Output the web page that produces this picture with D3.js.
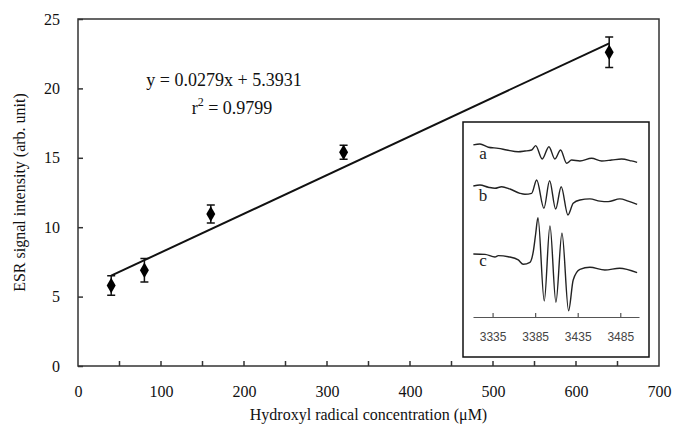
<!DOCTYPE html>
<html>
<head>
<meta charset="utf-8">
<script src="https://cdn.jsdelivr.net/npm/d3@7"></script>
<style>
  body { margin: 0; background: #fff; }
  svg { display: block; }
  .axis text { font-family: "Liberation Serif", "Times New Roman", serif; font-size: 16px; fill: #111; }
  .axis path, .axis line { stroke: #333; stroke-width: 1.5px; }
</style>
</head>
<body>
<svg id="chart" width="673" height="431"></svg>
<script>
// main calibration data
const concentration = [40, 80, 160, 320, 640];
const intensity = [5.8, 6.9, 10.95, 15.4, 22.6];
const errors = [0.7, 0.85, 0.65, 0.5, 1.1];
const xTickValues = [0, 100, 200, 300, 400, 500, 600, 700];
const yTickValues = [0, 5, 10, 15, 20, 25];
const slope = 0.0279;
const intercept = 5.3931;

// inset ESR spectra (field in G, arbitrary intensity)
const fieldA = [3312.4, 3320.2, 3330.0, 3341.7, 3351.6, 3365.2, 3373.0, 3380.9, 3385.6, 3393.3, 3401.2, 3408.2, 3414.9, 3422.0, 3427.8, 3437.6, 3451.3, 3463.1, 3474.8, 3486.5, 3498.3, 3504.8];
const specA  = [95.6, 96.1, 94.3, 93.7, 92.8, 91.8, 92.2, 92.8, 95.2, 87.8, 94.6, 87.8, 92.8, 85.4, 87.2, 86.7, 88.2, 86.7, 87.2, 87.8, 86.7, 85.9];
const fieldB = [3312.4, 3320.2, 3330.0, 3337.8, 3345.7, 3355.4, 3367.2, 3373.0, 3380.9, 3386.8, 3395.3, 3402.0, 3409.1, 3415.6, 3423.5, 3429.7, 3437.6, 3449.3, 3461.1, 3470.8, 3484.5, 3494.3, 3504.8];
const specB  = [72.8, 73.3, 72.1, 71.5, 72.4, 71.1, 68.7, 68.2, 68.7, 76.1, 60.4, 75.7, 60.0, 72.4, 56.7, 63.2, 65.0, 65.6, 64.4, 64.1, 65.6, 64.4, 62.6];
const fieldC = [3312.4, 3326.1, 3337.8, 3341.7, 3353.4, 3365.2, 3371.0, 3378.9, 3382.8, 3385.6, 3388.3, 3395.7, 3402.4, 3409.4, 3416.5, 3424.3, 3429.7, 3437.6, 3449.3, 3466.9, 3484.2, 3504.8];
const specC  = [35.0, 34.8, 33.3, 34.1, 33.5, 31.7, 29.3, 30.4, 36.3, 46.1, 55.2, 8.9, 50.6, 8.2, 46.5, 3.5, 20.6, 26.5, 27.6, 26.1, 27.1, 24.6];
const traceLabels = ['a', 'b', 'c'];
const fieldTicks = [3335, 3385, 3435, 3485];

const dimensions = {
  left: 78, top: 19, right: 659, bottom: 366
};

const svg = d3.select('#chart');

const xScale = d3.scaleLinear().domain([0, 700]).range([dimensions.left, dimensions.right]);
const yScale = d3.scaleLinear().domain([0, 25]).range([dimensions.bottom, dimensions.top]);

// frame
svg.append('rect')
   .attr('x', dimensions.left)
   .attr('y', dimensions.top)
   .attr('width', dimensions.right - dimensions.left)
   .attr('height', dimensions.bottom - dimensions.top)
   .attr('fill', 'none')
   .attr('stroke', '#333')
   .attr('stroke-width', 1.5);

// x axis: labels every 100, inner ticks every 50
const xAxis = d3.axisBottom(xScale)
                .tickValues(xTickValues)
                .tickSize(0)
                .tickPadding(20);
svg.append('g')
   .attr('class', 'axis axis-x')
   .attr('transform', 'translate(0,' + dimensions.bottom + ')')
   .call(xAxis)
   .call(g => g.select('.domain').remove());

svg.append('g')
   .selectAll('line')
   .data(d3.range(50, 700, 50))
   .enter()
   .append('line')
   .attr('x1', d => xScale(d))
   .attr('x2', d => xScale(d))
   .attr('y1', dimensions.bottom)
   .attr('y2', dimensions.bottom - 5)
   .attr('stroke', '#333')
   .attr('stroke-width', 1.5);

// y axis with inward ticks
const yAxis = d3.axisLeft(yScale)
                .tickValues(yTickValues)
                .tickSizeInner(-5)
                .tickSizeOuter(0)
                .tickPadding(18);
svg.append('g')
   .attr('class', 'axis axis-y')
   .attr('transform', 'translate(' + dimensions.left + ',0)')
   .call(yAxis)
   .call(g => g.select('.domain').remove());

// axis titles
svg.append('text')
   .attr('x', (dimensions.left + dimensions.right) / 2)
   .attr('y', 420)
   .attr('text-anchor', 'middle')
   .style('font-family', '"Liberation Serif", serif')
   .style('font-size', '16px')
   .attr('fill', '#111')
   .text('Hydroxyl radical concentration (\u03bcM)');

svg.append('text')
   .attr('transform', 'translate(25,' + (dimensions.top + dimensions.bottom) / 2 + ') rotate(-90)')
   .attr('text-anchor', 'middle')
   .style('font-family', '"Liberation Serif", serif')
   .style('font-size', '16px')
   .attr('fill', '#111')
   .text('ESR signal intensity (arb. unit)');

// regression line
svg.append('line')
   .attr('x1', xScale(concentration[0]))
   .attr('y1', yScale(slope * concentration[0] + intercept))
   .attr('x2', xScale(concentration[concentration.length - 1]))
   .attr('y2', yScale(slope * concentration[concentration.length - 1] + intercept))
   .attr('stroke', '#111')
   .attr('stroke-width', 2);

// equation
const eq = svg.append('g')
   .style('font-family', '"Liberation Serif", serif')
   .style('font-size', '18px')
   .attr('fill', '#111');
eq.append('text').attr('x', 224).attr('y', 86).attr('text-anchor', 'middle')
  .text('y = 0.0279x + 5.3931');
const r2 = eq.append('text').attr('x', 232).attr('y', 114).attr('text-anchor', 'middle');
r2.append('tspan').text('r');
r2.append('tspan').attr('dy', -8).style('font-size', '12px').text('2');
r2.append('tspan').attr('dy', 8).text(' = 0.9799');

// error bars
const points = concentration.map((c, i) => ({ x: c, y: intensity[i], e: errors[i] }));
const bars = svg.append('g').attr('stroke', '#111').attr('stroke-width', 1.5);
bars.selectAll('.err')
    .data(points)
    .enter()
    .append('path')
    .attr('fill', 'none')
    .attr('d', d => {
      const x = xScale(d.x), y1 = yScale(d.y + d.e), y2 = yScale(d.y - d.e);
      return 'M' + (x - 4) + ',' + y1 + 'H' + (x + 4) + 'M' + x + ',' + y1 + 'V' + y2 + 'M' + (x - 4) + ',' + y2 + 'H' + (x + 4);
    });

// diamond markers
svg.append('g')
   .selectAll('.marker')
   .data(points)
   .enter()
   .append('path')
   .attr('transform', d => 'translate(' + xScale(d.x) + ',' + yScale(d.y) + ')')
   .attr('d', d3.symbol().type(d3.symbolDiamond).size(70))
   .attr('fill', '#000');

// ---- inset ----
const inset = svg.append('g');
inset.append('rect')
     .attr('x', 463).attr('y', 122)
     .attr('width', 186).attr('height', 235)
     .attr('fill', '#fff')
     .attr('stroke', '#111')
     .attr('stroke-width', 1.5);

const fScale = d3.scaleLinear().domain([3312, 3507]).range([473, 639]);
const sScale = d3.scaleLinear().domain([0, 100]).range([317, 137]);

const fieldAxis = d3.axisBottom(fScale)
                    .tickValues(fieldTicks)
                    .tickFormat(d3.format('d'))
                    .tickSizeInner(-4)
                    .tickSizeOuter(0)
                    .tickPadding(15);
inset.append('g')
     .attr('transform', 'translate(0,317)')
     .call(fieldAxis)
     .call(g => g.select('.domain').attr('stroke', '#555').attr('stroke-width', 1.2))
     .call(g => g.selectAll('line').attr('stroke', '#555').attr('stroke-width', 1.2))
     .call(g => g.selectAll('text')
                 .style('font-family', '"Liberation Sans", sans-serif')
                 .style('font-size', '12px')
                 .attr('fill', '#444'));

const traces = [[fieldA, specA], [fieldB, specB], [fieldC, specC]];
const spectrumLine = d3.line()
                       .x(d => fScale(d[0]))
                       .y(d => sScale(d[1]))
                       .curve(d3.curveMonotoneX);
inset.selectAll('.trace')
     .data(traces)
     .enter()
     .append('path')
     .attr('fill', 'none')
     .attr('stroke', '#222')
     .attr('stroke-width', 1.4)
     .attr('d', t => spectrumLine(t[0].map((f, i) => [f, t[1][i]])));

const labelY = [159, 201, 266];
inset.selectAll('.tlabel')
     .data(traceLabels)
     .enter()
     .append('text')
     .attr('x', 483)
     .attr('y', (d, i) => labelY[i])
     .attr('text-anchor', 'middle')
     .style('font-family', '"Liberation Serif", serif')
     .style('font-size', '17px')
     .attr('fill', '#222')
     .text(d => d);
</script>
</body>
</html>
